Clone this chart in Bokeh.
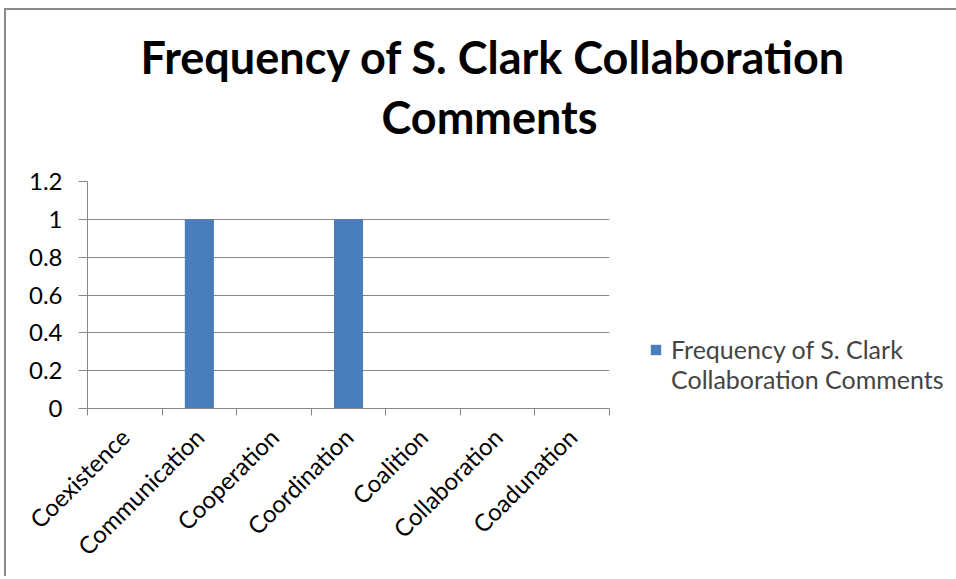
import math
from bokeh.plotting import figure
from bokeh.models import Range1d, FixedTicker, NumeralTickFormatter, Title, Legend, LegendItem
from bokeh.embed import file_html
from bokeh.resources import INLINE

categories = ["Coexistence", "Communication", "Cooperation", "Coordination",
              "Coalition", "Collaboration", "Coadunation"]
values = [0, 1, 0, 1, 0, 0, 0]
y_ticks = [0, 0.2, 0.4, 0.6, 0.8, 1.0, 1.2]
series_label_lines = ["Frequency of S. Clark", "Collaboration Comments"]
title_lines = ["Frequency of S. Clark Collaboration", "Comments"]

FONT = "Lato"
GRAY = "#868686"
BLUE = "#4a7ebb"

p = figure(frame_width=522, frame_height=227, output_backend="svg", toolbar_location=None,
           x_range=Range1d(0, len(categories)), y_range=Range1d(0, 1.2),
           min_border_left=81, min_border_right=345, min_border_top=171,
           min_border_bottom=168)
p.outline_line_color = None
p.background_fill_color = "white"
p.border_fill_color = "white"
p.styles = {"border-top": "2px solid #8a8a8a", "border-left": "2px solid #8a8a8a",
            "margin-left": "4px", "margin-top": "8px"}

xs = [i + 0.5 for i in range(len(categories))]
r = p.vbar(x=xs, top=values, width=0.39, fill_color=BLUE, line_color=None)

# x axis
p.xaxis.ticker = FixedTicker(ticks=xs, minor_ticks=list(range(len(categories) + 1)))
p.xaxis.major_label_overrides = {x: c for x, c in zip(xs, categories)}
p.xaxis.major_label_orientation = math.pi / 4
p.xaxis.major_tick_line_color = None
p.xaxis.minor_tick_line_color = GRAY
p.xaxis.minor_tick_in = 0
p.xaxis.minor_tick_out = 7
p.xaxis.axis_line_color = GRAY
p.xaxis.major_label_text_font = FONT
p.xaxis.major_label_text_font_size = "24px"
p.xaxis.major_label_text_color = "black"
p.xaxis.major_label_standoff = 17
p.xgrid.grid_line_color = None

# y axis
p.yaxis.ticker = FixedTicker(ticks=y_ticks, minor_ticks=[])
p.yaxis.formatter = NumeralTickFormatter(format="0.[0]")
p.yaxis.major_tick_in = 0
p.yaxis.major_tick_out = 9
p.yaxis.major_tick_line_color = GRAY
p.yaxis.axis_line_color = GRAY
p.yaxis.major_label_text_font = FONT
p.yaxis.major_label_text_font_size = "24px"
p.yaxis.major_label_text_color = "black"
p.yaxis.major_label_standoff = 16
p.ygrid.grid_line_color = GRAY
p.ygrid.ticker = FixedTicker(ticks=y_ticks)

# blank gap between plot area and title
p.add_layout(Title(text=" ", standoff=33, text_font=FONT, text_font_size="1px",
                   text_color="white"), "above")

# title (two lines, first added sits nearest the plot)
p.add_layout(Title(text=title_lines[1], align="left", offset=294, standoff=4,
                   text_font=FONT, text_font_style="bold", text_font_size="45px",
                   vertical_align="bottom", text_color="black"), "above")
p.add_layout(Title(text=title_lines[0], align="left", offset=53, standoff=4,
                   text_font=FONT, text_font_style="bold", text_font_size="45px",
                   vertical_align="bottom", text_color="black"), "above")

legend = Legend(items=[LegendItem(label=series_label_lines[0], renderers=[r]),
                       LegendItem(label=series_label_lines[1], renderers=[])],
                location=(40, 14), border_line_color=None, background_fill_alpha=0,
                padding=0, margin=0, spacing=0,
                label_text_font=FONT, label_text_font_size="25px",
                label_text_line_height=1.2, label_height=30,
                glyph_width=13, glyph_height=13, label_standoff=9)
p.add_layout(legend, "right")

open("out.html", "w").write(file_html(p, INLINE))
